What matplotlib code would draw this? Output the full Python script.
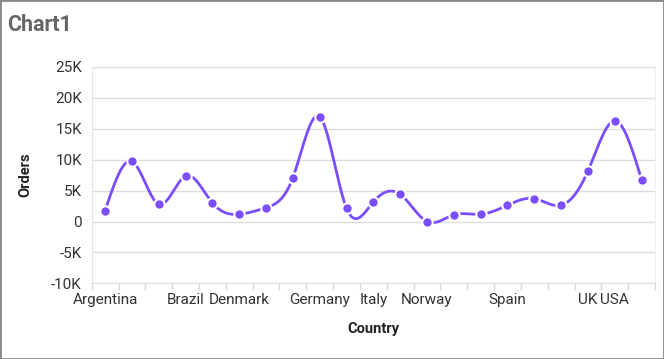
import numpy as np
import matplotlib
matplotlib.use("Agg")
import matplotlib.pyplot as plt
from matplotlib.ticker import FuncFormatter

plt.rcParams['font.family'] = ['Roboto', 'DejaVu Sans']

countries = ["Argentina", "Austria", "Belgium", "Brazil", "Canada", "Denmark",
             "Finland", "France", "Germany", "Ireland", "Italy", "Mexico",
             "Norway", "Poland", "Portugal", "Spain", "Sweden", "Switzerland",
             "UK", "USA", "Venezuela"]
orders = [1770, 9730, 2790, 7360, 3000, 1180, 2250, 7090, 16940, 2150, 3170,
          4400, 0, 1070, 1180, 2630, 3700, 2630, 8170, 16290, 6770]
shown_labels = ["Argentina", "Brazil", "Denmark", "Germany", "Italy",
                "Norway", "Spain", "UK", "USA"]
y_ticks = [-10000, -5000, 0, 5000, 10000, 15000, 20000, 25000]

W, H = 664, 359
fig = plt.figure(figsize=(W / 100, H / 100), dpi=100)
ax = fig.add_axes([91.7 / W, 1 - 283.3 / H, (655 - 91.7) / W, (283.3 - 67) / H])

x = np.arange(len(countries), dtype=float)
y = np.array(orders, dtype=float)

# natural cubic spline for smooth rendering
n = len(x)
h = np.diff(x)
A = np.zeros((n, n)); b = np.zeros(n)
A[0, 0] = 1; A[-1, -1] = 1
for i in range(1, n - 1):
    A[i, i - 1] = h[i - 1]; A[i, i] = 2 * (h[i - 1] + h[i]); A[i, i + 1] = h[i]
    b[i] = 3 * ((y[i + 1] - y[i]) / h[i] - (y[i] - y[i - 1]) / h[i - 1])
c = np.linalg.solve(A, b)
xs, ys = [], []
for i in range(n - 1):
    t = np.linspace(0, h[i], 40)
    bi = (y[i + 1] - y[i]) / h[i] - h[i] * (2 * c[i] + c[i + 1]) / 3
    di = (c[i + 1] - c[i]) / (3 * h[i])
    xs.append(x[i] + t)
    ys.append(y[i] + bi * t + c[i] * t ** 2 + di * t ** 3)
xs = np.concatenate(xs); ys = np.concatenate(ys)

purple = "#7B4DFF"
ax.plot(xs, ys, color=purple, lw=2, zorder=3)
ax.plot(x, y, 'o', color=purple, ms=7.5, mec="white", mew=1.5, zorder=4)

ax.set_xlim(-0.5, len(countries) - 0.5)
ax.set_ylim(-10000, 25000)
ax.set_yticks(y_ticks)
ax.yaxis.set_major_formatter(FuncFormatter(lambda v, p: "0" if v == 0 else f"{int(v/1000)}K"))
ax.set_xticks(x)
ax.set_xticklabels([c if c in shown_labels else "" for c in countries])
ax.set_xticks(np.arange(-0.5, len(countries)), minor=True)
ax.tick_params(axis='x', which='major', length=0, labelsize=11, colors="#333333", pad=7)
ax.tick_params(axis='x', which='minor', length=5, color="#d9d9d9", width=1)
ax.tick_params(axis='y', length=0, labelsize=11, colors="#333333", pad=7)
ax.grid(axis='y', color="#dddddd", lw=1)
ax.set_axisbelow(True)
for s in ["top"]:
    ax.spines[s].set_visible(False)
ax.spines["left"].set_color("#e6e6e6")
ax.spines["right"].set_color("#eeeeee")
ax.spines["bottom"].set_color("#dddddd")

fig.text(25 / W, 1 - 175 / H, "Orders", rotation=90, ha="center", va="center",
         fontsize=10.5, fontweight="bold", color="#222222")
fig.text(373 / W, 1 - 329 / H, "Country", ha="center", va="center",
         fontsize=10.5, fontweight="bold", color="#222222")
fig.text(7 / W, 1 - 25 / H, "Chart1", ha="left", va="center",
         fontsize=15.5, fontweight="bold", color="#666666")

border = plt.Rectangle((0, 0), 1, 1, transform=fig.transFigure, fill=False,
                       edgecolor="#888888", lw=2)
fig.patches.append(border)

fig.savefig("out.png", dpi=100)
